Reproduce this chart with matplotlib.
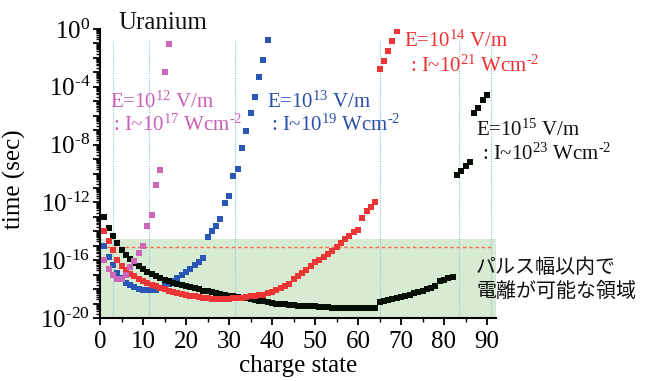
import numpy as np
import matplotlib
matplotlib.use("Agg")
import matplotlib.pyplot as plt
from matplotlib.ticker import LogLocator, FuncFormatter, MultipleLocator, NullFormatter

plt.rcParams['font.family'] = ['Liberation Serif', 'DejaVu Serif']
plt.rcParams['mathtext.fontset'] = 'custom'
plt.rcParams['mathtext.rm'] = 'Liberation Serif'
plt.rcParams['mathtext.it'] = 'Liberation Serif:italic'
plt.rcParams['mathtext.bf'] = 'Liberation Serif:bold'

# ---- data (log10 of time in seconds) ----
q_pink = list(range(1, 17))
log_pink = [-16.0, -16.6, -17.05, -17.3, -17.3, -17.05, -16.45, -16.05, -15.5, -15.0,
            -13.6, -12.9, -10.8, -9.76, -3.0, -1.06]

q_blue = list(range(1, 40))
log_blue = [-15.0, -15.75, -16.33, -16.9, -17.25, -17.55, -17.75, -17.88, -17.97, -18.03,
            -18.06, -18.06, -18.03, -17.95, -17.8, -17.65, -17.45, -17.25, -17.03, -16.8,
            -16.6, -16.35, -16.1, -15.85, -14.37, -13.96, -13.6, -13.15, -12.06, -11.55,
            -10.2, -9.68, -8.26, -7.04, -5.8, -4.7, -3.34, -2.15, -0.76]

q_red = list(range(1, 70))
log_red = [-14.0, -14.7, -15.3, -16.0, -16.4, -16.7, -16.95, -17.1, -17.3, -17.45,
           -17.55, -17.7, -17.8, -17.9, -18.0, -18.1, -18.18, -18.25, -18.32, -18.38,
           -18.45, -18.5, -18.55, -18.6, -18.63, -18.66, -18.68, -18.7, -18.7, -18.68,
           -18.65, -18.62, -18.6, -18.55, -18.5, -18.45, -18.42, -18.4, -18.3, -18.2,
           -18.05, -17.9, -17.8, -17.65, -17.3, -17.1, -16.9, -16.65, -16.4, -16.15,
           -16.0, -15.8, -15.6, -15.35, -15.1, -14.8, -14.5, -14.3, -14.05, -13.9,
           -13.05, -12.6, -12.3, -11.95, -2.8, -2.2, -1.5, -0.8, -0.12]

q_black = list(range(1, 91))
log_black = [-13.0, -13.75, -14.3, -14.8, -15.3, -15.65, -15.95, -16.2, -16.4, -16.6,
             -16.8, -16.95, -17.1, -17.25, -17.35, -17.45, -17.55, -17.65, -17.75, -17.8,
             -17.85, -17.95, -18.0, -18.1, -18.15, -18.2, -18.3, -18.35, -18.4, -18.45,
             -18.5, -18.55, -18.6, -18.65, -18.7, -18.75, -18.8, -18.85, -18.9, -18.95,
             -19.0, -19.0, -19.05, -19.1, -19.1, -19.15, -19.15, -19.2, -19.2, -19.2,
             -19.25, -19.25, -19.25, -19.3, -19.3, -19.3, -19.3, -19.3, -19.3, -19.3,
             -19.3, -19.3, -19.3, -19.3, -18.88, -18.82, -18.75, -18.68, -18.6, -18.52,
             -18.45, -18.38, -18.3, -18.22, -18.12, -18.02, -17.92, -17.82, -17.45, -17.35,
             -17.25, -17.15, -10.1, -9.8, -9.5, -9.2, -5.8, -5.5, -4.9, -4.55]

vlines_q = [3, 11.5, 31.5, 65, 83.5, 91]
pulse_top_log = -14.5
pulse_line_log = -15.1

x_ticks = list(range(0, 91, 10))

# ---- figure ----
W, H = 651, 381
fig = plt.figure(figsize=(W / 100, H / 100), dpi=100)
ax = fig.add_axes([100 / W, 1 - 318 / H, 395.6 / W, 289 / H])

ax.set_yscale('log')
ax.set_xlim(0, 92)
ax.set_ylim(1e-20, 1e0)

ax.axhspan(1e-20, 10 ** pulse_top_log, xmin=0, xmax=1, color='#d6ebd2', zorder=0, lw=0)
ax.axhline(10 ** pulse_line_log, xmin=0, xmax=91 / 92, color='#fa6a4a', lw=1.0,
           ls=(0, (2.5, 2)), zorder=1)
for xv in vlines_q:
    ax.plot([xv, xv], [1e-20, 10 ** -0.8], color='#8fbde0', lw=0.8, ls=(0, (1, 1.2)), zorder=1)

ms = 5.0
ax.plot(q_blue, 10 ** np.array(log_blue), 's', color='#2a56b4', ms=ms, mew=0, zorder=3)
ax.plot(q_black, 10 ** np.array(log_black), 's', color='#050f05', ms=ms, mew=0, zorder=4)
ax.plot(q_red, 10 ** np.array(log_red), 's', color='#ee3535', ms=ms, mew=0, zorder=5)
ax.plot(q_pink, 10 ** np.array(log_pink), 's', color='#cc66b8', ms=ms, mew=0, zorder=6)

for s in ['top', 'right']:
    ax.spines[s].set_visible(False)
for s in ['left', 'bottom']:
    ax.spines[s].set_linewidth(1.5)

ax.xaxis.set_major_locator(matplotlib.ticker.FixedLocator(x_ticks))
ax.xaxis.set_minor_locator(MultipleLocator(5))
ax.yaxis.set_major_locator(LogLocator(base=10, numticks=30))
ax.yaxis.set_minor_locator(LogLocator(base=10, subs=np.arange(2, 10), numticks=30))
ax.yaxis.set_minor_formatter(NullFormatter())


def yfmt(v, pos):
    k = int(round(np.log10(v)))
    if k % 4 != 0:
        return ''
    if k < 0:
        return r'10$^{\text{-}%d}$' % (-k)
    return r'10$^{%d}$' % k


ax.yaxis.set_major_formatter(FuncFormatter(yfmt))
ax.tick_params(axis='both', which='major', direction='out', labelsize=18, width=1.3, length=5)
ax.tick_params(axis='y', which='major', pad=2)
ax.tick_params(axis='x', which='major', pad=4)
ax.tick_params(axis='both', which='minor', direction='out', width=1.0, length=3)

ax.set_xlabel('charge state', fontsize=18, labelpad=2)
ax.set_ylabel('time (sec)', fontsize=18)
ax.yaxis.set_label_coords(-0.187, 0.48)


def ftext(x, y, s, **kw):
    fig.text(x / W, 1 - y / H, s, ha='left', va='baseline', **kw)


ftext(118, 29, 'Uranium', fontsize=18, color='#111111')
ftext(110, 108, r'E=10$^{12}$ V/m', fontsize=15, color='#cc5fb5')
ftext(113, 131, r': I~10$^{17}$ Wcm$^{\text{-}2}$', fontsize=15, color='#cc5fb5')
ftext(267, 108, r'E=10$^{13}$ V/m', fontsize=15, color='#2a4fa8')
ftext(271, 131, r': I~10$^{19}$ Wcm$^{\text{-}2}$', fontsize=15, color='#2a4fa8')
ftext(404, 47, r'E=10$^{14}$ V/m', fontsize=15, color='#ee3030')
ftext(410, 72, r': I~10$^{21}$ Wcm$^{\text{-}2}$', fontsize=15, color='#ee3030')
ftext(476, 136, r'E=10$^{15}$ V/m', fontsize=15, color='#111111')
ftext(482, 160, r': I~10$^{23}$ Wcm$^{\text{-}2}$', fontsize=15, color='#111111')

jp = ['Noto Sans CJK JP', 'DejaVu Sans']
ftext(476, 273, 'パルス幅以内で', fontsize=14.4, color='#111111', family=jp)
ftext(476, 297, '電離が可能な領域', fontsize=14.4, color='#111111', family=jp)

fig.savefig('out.png', dpi=100)
